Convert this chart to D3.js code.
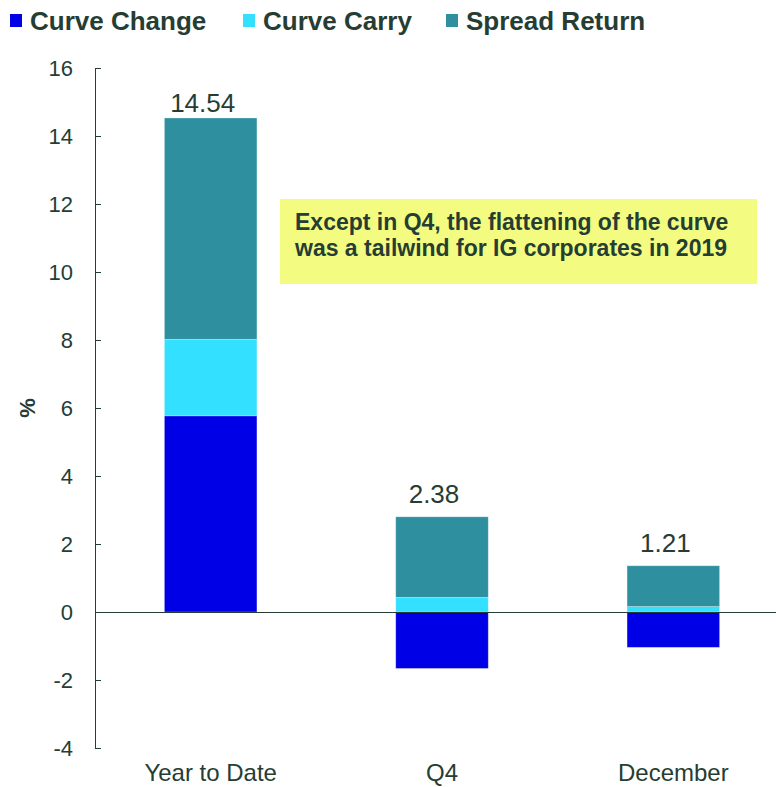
<!DOCTYPE html>
<html>
<head>
<meta charset="utf-8">
<script src="https://cdn.jsdelivr.net/npm/d3@7"></script>
<style>
  body { margin: 0; background: #fff; }
  svg { display: block; font-family: "Liberation Sans", Arial, sans-serif; }
</style>
</head>
<body>
<svg id="chart" width="776" height="787"></svg>
<script>
// chart data
var categories = ["Year to Date", "Q4", "December"];
var curveChange = [5.77, -1.66, -1.04];
var curveCarry = [2.25, 0.43, 0.16];
var spreadReturn = [6.51, 2.37, 1.20];
var totalLabels = ["14.54", "2.38", "1.21"];
var seriesNames = ["Curve Change", "Curve Carry", "Spread Return"];
var yTicks = [-4, -2, 0, 2, 4, 6, 8, 10, 12, 14, 16];

var textColor = "#263d33";
var colors = ["#0000e6", "#33e0ff", "#2e8f9e"];

var width = 776, height = 787;
var svg = d3.select("#chart");

var rows = categories.map(function(c, i) {
  return { cat: c, "Curve Change": curveChange[i], "Curve Carry": curveCarry[i], "Spread Return": spreadReturn[i] };
});

var stacked = d3.stack()
    .keys(seriesNames)
    .offset(d3.stackOffsetDiverging)(rows);

var x = d3.scaleBand()
    .domain(categories)
    .range([95, 789])
    .paddingInner(0.6)
    .paddingOuter(0.3);

var y = d3.scaleLinear()
    .domain([-4, 16])
    .range([748, 68]);

var z = d3.scaleOrdinal().domain(seriesNames).range(colors);

// bars
svg.append("g")
  .selectAll("g")
  .data(stacked)
  .enter().append("g")
    .attr("fill", function(d) { return z(d.key); })
  .selectAll("rect")
  .data(function(d) { return d; })
  .enter().append("rect")
    .attr("x", function(d) { return x(d.data.cat); })
    .attr("y", function(d) { return y(Math.max(d[0], d[1])); })
    .attr("height", function(d) { return Math.abs(y(d[0]) - y(d[1])); })
    .attr("width", x.bandwidth())
    .attr("stroke", "#ffffff")
    .attr("stroke-opacity", 0.35)
    .attr("stroke-width", 0.8);

// y axis, ticks pointing inward
var yAxis = svg.append("g")
    .attr("transform", "translate(95,0)")
    .call(d3.axisRight(y).tickValues(yTicks).tickSize(6).tickFormat(function(d) { return String(d); }));
yAxis.select(".domain").attr("stroke", textColor).attr("d", "M6,68.5H0.5V748.5H6");
yAxis.selectAll(".tick line").attr("stroke", textColor);
yAxis.selectAll(".tick text")
    .attr("x", -22)
    .attr("text-anchor", "end")
    .attr("fill", textColor)
    .attr("font-size", 22)
    .attr("dy", "0.36em");

// zero line
svg.append("line")
    .attr("x1", 95).attr("x2", width)
    .attr("y1", Math.round(y(0)) + 0.5).attr("y2", Math.round(y(0)) + 0.5)
    .attr("stroke", textColor)
    .attr("stroke-width", 1);

// y title
svg.append("text")
    .attr("transform", "translate(35,408) rotate(-90)")
    .attr("text-anchor", "middle")
    .attr("font-weight", "bold")
    .attr("font-size", 22)
    .attr("fill", textColor)
    .text("%");

// category labels
svg.append("g")
  .selectAll("text")
  .data(categories)
  .enter().append("text")
    .attr("x", function(d) { return x(d) + x.bandwidth() / 2; })
    .attr("y", 781)
    .attr("text-anchor", "middle")
    .attr("font-size", 24)
    .attr("fill", textColor)
    .text(function(d) { return d; });

// total labels above bars
var topOf = categories.map(function(c, i) {
  return d3.max(stacked, function(s) { return s[i][1]; });
});
svg.append("g")
  .selectAll("text")
  .data(categories)
  .enter().append("text")
    .attr("x", function(d) { return x(d) + x.bandwidth() / 2 - 8; })
    .attr("y", function(d, i) { return Math.max(y(topOf[i]) - 14, 112); })
    .attr("text-anchor", "middle")
    .attr("font-size", 26)
    .attr("fill", textColor)
    .text(function(d, i) { return totalLabels[i]; });

// annotation box
svg.append("rect")
    .attr("x", 280).attr("y", 199)
    .attr("width", 477).attr("height", 85)
    .attr("fill", "#f3fc80");
var note = svg.append("text")
    .attr("font-weight", "bold")
    .attr("font-size", 23)
    .attr("fill", textColor);
note.append("tspan").attr("x", 295).attr("y", 230).text("Except in Q4, the flattening of the curve");
note.append("tspan").attr("x", 295).attr("y", 256).text("was a tailwind for IG corporates in 2019");

// legend
var legendX = [10, 243, 446];
var legend = svg.append("g")
  .selectAll("g")
  .data(seriesNames)
  .enter().append("g")
    .attr("transform", function(d, i) { return "translate(" + legendX[i] + ",0)"; });
legend.append("rect")
    .attr("x", 0).attr("y", 14)
    .attr("width", 12).attr("height", 13)
    .attr("fill", z);
legend.append("text")
    .attr("x", 20).attr("y", 30)
    .attr("font-weight", "bold")
    .attr("font-size", 26)
    .attr("fill", textColor)
    .text(function(d) { return d; });
</script>
</body>
</html>
